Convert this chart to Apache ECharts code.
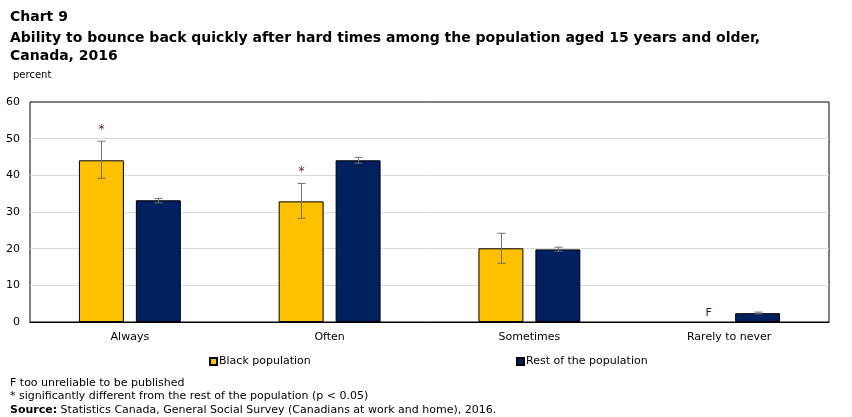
<!DOCTYPE html>
<html><head><meta charset="utf-8">
<script src="https://cdn.jsdelivr.net/npm/echarts@6/dist/echarts.min.js"></script>
<style>html,body{margin:0;padding:0;background:#fff}#c{width:852px;height:417px}</style>
</head><body><div id="c"></div>
<script>
const categories = ['Always', 'Often', 'Sometimes', 'Rarely to never'];
const blackValues = [44.1, 32.9, 20.1, null];
const blackLow = [39.2, 28.3, 16.0, null];
const blackHigh = [49.3, 37.8, 24.2, null];
const blackFlags = ['*', '*', '', 'F'];
const restValues = [33.2, 44.1, 19.8, 2.4];
const restLow = [32.5, 43.3, 19.3, 2.2];
const restHigh = [33.7, 44.9, 20.4, 2.7];
const yTicks = [0, 10, 20, 30, 40, 50, 60];

const FONT = 'DejaVu Sans';
const chart = echarts.init(document.getElementById('c'), null, {renderer: 'canvas'});

function errSeries(name, low, high, flags, offsetRatio) {
  const data = categories.map((c, i) => [i, low[i], high[i], flags ? flags[i] : '']);
  return {
    type: 'custom', name: name + ' err', silent: true, z: 5,
    data: data,
    encode: {x: 0, y: [1, 2]},
    renderItem: function (params, api) {
      const idx = api.value(0);
      const band = api.size([1, 0])[0];
      const off = band * offsetRatio;
      const lo = api.value(1), hi = api.value(2);
      const flag = flags ? flags[idx] : '';
      const children = [];
      if (lo !== null && !isNaN(lo) && hi !== null && !isNaN(hi)) {
        const pLo = api.coord([idx, lo]);
        const pHi = api.coord([idx, hi]);
        const x = Math.round(pLo[0] + off) + 0.5;
        const st = {stroke: '#707070', lineWidth: 1};
        children.push({type: 'line', shape: {x1: x, y1: pHi[1], x2: x, y2: pLo[1]}, style: st});
        children.push({type: 'line', shape: {x1: x - 4, y1: pHi[1], x2: x + 4, y2: pHi[1]}, style: st});
        children.push({type: 'line', shape: {x1: x - 4, y1: pLo[1], x2: x + 4, y2: pLo[1]}, style: st});
        if (flag === '*') {
          children.push({type: 'text', style: {text: '*', x: x, y: pHi[1] - 5, align: 'center', verticalAlign: 'bottom', fill: '#5b2a4e', font: '13px ' + FONT}});
        }
      } else if (flag === 'F') {
        const p = api.coord([idx, 0]);
        children.push({type: 'text', style: {text: 'F', x: p[0] + off + 8, y: p[1] - 3, align: 'center', verticalAlign: 'bottom', fill: '#3a1a33', font: '11px ' + FONT}});
      }
      return {type: 'group', children: children};
    }
  };
}

const option = {
  animation: false,
  textStyle: {fontFamily: FONT},
  title: [
    {text: 'Chart 9', left: 5, top: 5, textStyle: {fontFamily: FONT, fontSize: 14, fontWeight: 'bold', color: '#000'}},
    {text: 'Ability to bounce back quickly after hard times among the population aged 15 years and older,\nCanada, 2016', left: 5, top: 24, textStyle: {fontFamily: FONT, fontSize: 14, fontWeight: 'bold', color: '#000', lineHeight: 18}},
    {text: 'percent', left: 8, top: 65, textStyle: {fontFamily: FONT, fontSize: 10, fontWeight: 'normal', color: '#000'}},
    {text: 'F too unreliable to be published\n* significantly different from the rest of the population (p < 0.05)\n{b|Source:} Statistics Canada, General Social Survey (Canadians at work and home), 2016.',
     left: 5, top: 371, textStyle: {fontFamily: FONT, fontSize: 11, fontWeight: 'normal', color: '#000', lineHeight: 13.5, rich: {b: {fontFamily: FONT, fontSize: 11, fontWeight: 'bold', color: '#000'}}}}
  ],
  legend: [
    {data: ['Black population'], left: 204, top: 351, itemWidth: 7, itemHeight: 7, itemGap: 4, icon: 'rect', textStyle: {fontFamily: FONT, fontSize: 11, color: '#000', padding: [0, 0, 0, -3]}},
    {data: ['Rest of the population'], left: 511, top: 351, itemWidth: 7, itemHeight: 7, itemGap: 4, icon: 'rect', textStyle: {fontFamily: FONT, fontSize: 11, color: '#000', padding: [0, 0, 0, -3]}}
  ],
  grid: {left: 30, right: 23, top: 102, bottom: 95, show: true, borderColor: '#000', borderWidth: 1, containLabel: false},
  xAxis: {
    type: 'category', data: categories,
    axisLine: {show: true, lineStyle: {color: '#000', width: 1}},
    axisTick: {show: false},
    axisLabel: {color: '#000', fontFamily: FONT, fontSize: 11, margin: 10},
    splitLine: {show: false}
  },
  yAxis: {
    type: 'value', min: 0, max: 60, interval: 10,
    axisLine: {show: false}, axisTick: {show: false},
    axisLabel: {color: '#000', fontFamily: FONT, fontSize: 11, margin: 10, formatter: v => yTicks.includes(v) ? String(v) : ''},
    splitLine: {show: true, showMaxLine: false, showMinLine: false, lineStyle: {color: '#d9d9d9', width: 1}}
  },
  series: [
    {name: 'Black population', type: 'bar', data: blackValues, barWidth: '22.5%', barGap: '26.7%',
     itemStyle: {color: '#FFC000', borderColor: '#000', borderWidth: 1}},
    {name: 'Rest of the population', type: 'bar', data: restValues, barWidth: '22.5%', barGap: '26.7%',
     itemStyle: {color: '#002060', borderColor: '#000', borderWidth: 1}},
    errSeries('Black population', blackLow, blackHigh, blackFlags, -0.1425),
    errSeries('Rest of the population', restLow, restHigh, null, 0.1425)
  ]
};
chart.setOption(option);
</script></body></html>
